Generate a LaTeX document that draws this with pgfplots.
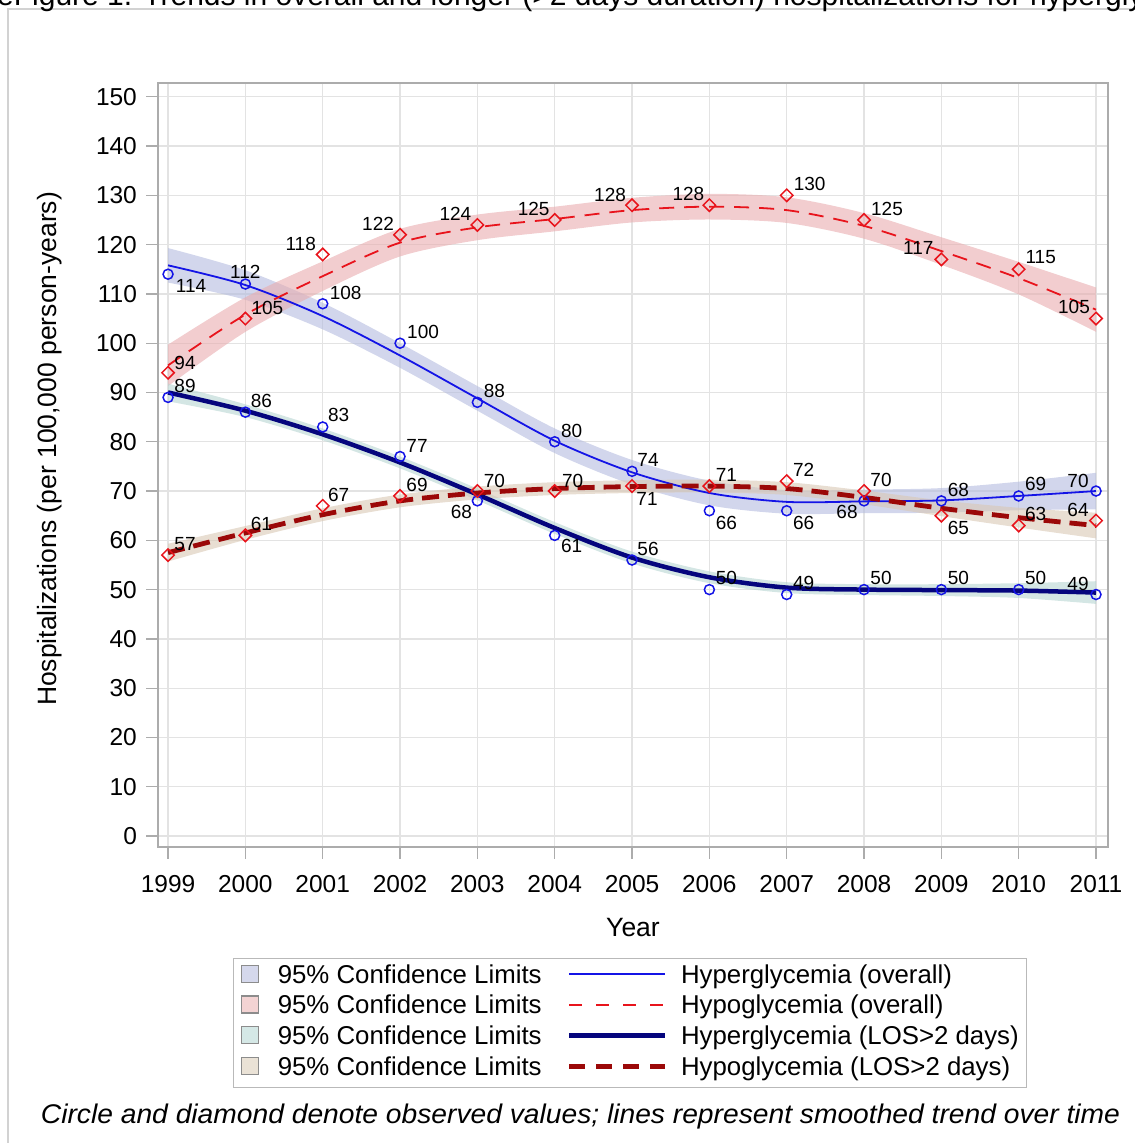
\documentclass[border=0pt]{standalone}
\usepackage{fontspec}
\setmainfont{Liberation Sans}
\usepackage{graphicx}
\usepackage{pgfplots}
\usepackage{pgfplotstable}
\pgfplotsset{compat=1.18}
\usepgfplotslibrary{fillbetween}

\definecolor{hyblue}{RGB}{20,20,230}
\definecolor{hynavy}{RGB}{5,5,125}
\definecolor{hored}{RGB}{232,20,28}
\definecolor{hodark}{RGB}{155,8,8}
\definecolor{bandA}{RGB}{180,187,223}
\definecolor{bandB}{RGB}{233,172,175}
\definecolor{bandC}{RGB}{183,213,210}
\definecolor{bandD}{RGB}{217,200,180}
\definecolor{legA}{RGB}{213,216,236}
\definecolor{legB}{RGB}{243,211,211}
\definecolor{legC}{RGB}{213,232,230}
\definecolor{legD}{RGB}{234,226,214}

% smoothed trend and 95% limits
\pgfplotstableread{
x s lo hi
1999 115.8 112.3 119.3
2000 111.8 108.8 114.8
2001 105.5 102.8 108.2
2002 97.5 95.0 100.0
2003 88.8 86.3 91.3
2004 80.2 77.7 82.7
2005 73.8 71.3 76.3
2006 69.6 67.1 72.1
2007 67.8 65.4 70.2
2008 67.9 65.5 70.3
2009 68.1 65.6 70.6
2010 69.0 66.1 71.9
2011 70.0 66.3 73.7
}\trendA
\pgfplotstableread{
x s lo hi
1999 95.5 91.3 99.7
2000 105.8 102.3 109.3
2001 113.6 110.6 116.6
2002 120.4 117.6 123.2
2003 123.5 120.9 126.1
2004 125.2 122.7 127.7
2005 127.0 124.5 129.5
2006 127.7 125.1 130.3
2007 127.0 124.4 129.6
2008 123.8 121.2 126.4
2009 118.7 115.9 121.5
2010 113.2 109.9 116.5
2011 106.8 102.3 111.3
}\trendB
\pgfplotstableread{
x s lo hi
1999 90.0 88.2 91.8
2000 86.3 85.0 87.6
2001 81.5 80.3 82.7
2002 75.8 74.6 77.0
2003 69.3 68.1 70.5
2004 62.5 61.3 63.7
2005 56.5 55.3 57.7
2006 52.5 51.3 53.7
2007 50.4 49.3 51.5
2008 50.0 48.9 51.1
2009 49.9 48.7 51.1
2010 49.8 48.3 51.3
2011 49.4 47.1 51.7
}\trendC
\pgfplotstableread{
x s lo hi
1999 57.5 55.7 59.3
2000 61.5 60.1 62.9
2001 65.2 63.9 66.5
2002 68.0 66.7 69.3
2003 69.6 68.3 70.9
2004 70.5 69.2 71.8
2005 70.9 69.6 72.2
2006 71.0 69.7 72.3
2007 70.5 69.2 71.8
2008 68.7 67.3 70.1
2009 66.5 64.9 68.1
2010 64.6 62.6 66.6
2011 63.0 60.4 65.6
}\trendD

% observed values, with label offsets (dx, dy)
\pgfplotstableread{
x y dx dy
1999 114 23 -12
2000 112 0 12
2001 108 23 11
2002 100 23 11
2003 88 17 11
2004 80 17 11
2005 74 16 11
2006 66 17 -12
2007 66 17 -12
2008 68 -17 -11
2009 68 17 11
2010 69 17 12
2011 70 -18 10
}\obsA
\pgfplotstableread{
x y dx dy
1999 94 17 10
2000 105 22 11
2001 118 -22 11
2002 122 -22 11
2003 124 -22 11
2004 125 -21 11
2005 128 -22 10
2006 128 -21 11
2007 130 23 11
2008 125 23 11
2009 117 -23 11
2010 115 22 12
2011 105 -22 12
}\obsB
\pgfplotstableread{
x y dx dy
1999 89 17 11
2000 86 16 11
2001 83 16 12
2002 77 17 11
2003 68 -16 -11
2004 61 17 -11
2005 56 16 11
2006 50 17 12
2007 49 17 12
2008 50 17 12
2009 50 17 12
2010 50 17 12
2011 49 -18 11
}\obsC
\pgfplotstableread{
x y dx dy
1999 57 17 11
2000 61 16 11
2001 67 16 11
2002 69 17 11
2003 70 17 10
2004 70 18 10
2005 71 15 -13
2006 71 17 11
2007 72 17 11
2008 70 17 11
2009 65 17 -12
2010 63 17 12
2011 64 -18 11
}\obsD

\pgfplotsset{
  obslabels/.style={
    point meta=explicit,
    nodes near coords,
    nodes near coords align={anchor=center},
    visualization depends on={\thisrow{dx}\as\dx},
    visualization depends on={\thisrow{dy}\as\dy},
    every node near coord/.append style={font=\fontsize{19bp}{22bp}\selectfont, text=black,
      inner sep=0pt, anchor=center, xshift=\dx bp, yshift=\dy bp},
  },
  circ/.style={only marks, mark=o, mark size=5bp, mark options={draw=hyblue, line width=1.5bp}},
  diam/.style={only marks, mark=square, mark size=4.4bp, mark options={draw=hored, line width=1.5bp, rotate=45}},
}

\begin{document}
\begin{tikzpicture}
\draw[color=gray!35, line width=2bp] (8bp,1134bp) rectangle (1160bp,-20bp);
\node[anchor=base west, inner sep=0pt, font=\fontsize{30bp}{34bp}\selectfont] at (-3bp,1137.5bp)
  {eFigure 1. Trends in overall and longer (>2 days duration) hospitalizations for hyperglycemia and hypoglycemia};

\begin{axis}[
  at={(158bp,296bp)}, anchor=south west,
  scale only axis, width=950bp, height=764bp,
  xmin=1998.87, xmax=2011.155, ymin=-2.23, ymax=152.8,
  xtick={1999,2000,...,2011}, ytick={0,10,...,150},
  tick pos=left, tick align=outside,
  major tick length=12bp,
  /pgf/number format/assume math mode=true,
  xticklabel style={/pgf/number format/1000 sep={}},
  ticklabel style={font=\fontsize{24.5bp}{28bp}\selectfont, inner sep=0pt},
  xticklabel shift=16bp, yticklabel shift=9bp,
  grid=major, major grid style={draw=gray!22, line width=1.3bp},
  axis line style={draw=gray!65, line width=1.6bp},
  every tick/.style={draw=gray!65, line width=1.3bp},
  xlabel={Year}, ylabel={Hospitalizations (per 100,000 person-years)},
  every axis x label/.style={at={(axis description cs:0.5,-0.106)}, anchor=center,
     font=\fontsize{26.5bp}{30bp}\selectfont},
  every axis y label/.style={at={(axis description cs:-0.1137,0.521)}, rotate=90, anchor=center,
     font=\fontsize{26.5bp}{30bp}\selectfont},
  legend columns=2,
  legend cell align=left,
  legend style={at={(axis description cs:0.4968,-0.1453)}, anchor=north,
     draw=gray!55, line width=1.3bp, inner xsep=8bp, inner ysep=6bp,
     font=\fontsize{25.8bp}{30bp}\selectfont, row sep=6bp,
     nodes={inner sep=0pt, text height=18bp, text depth=6bp, anchor=west},
     /tikz/every even column/.append style={column sep=25bp}},
]
% confidence bands
\addplot[draw=none, smooth, name path=au, forget plot] table[x=x,y=hi]{\trendA};
\addplot[draw=none, smooth, name path=al, forget plot] table[x=x,y=lo]{\trendA};
\addplot[draw=none, smooth, name path=bu, forget plot] table[x=x,y=hi]{\trendB};
\addplot[draw=none, smooth, name path=bl, forget plot] table[x=x,y=lo]{\trendB};
\addplot[draw=none, smooth, name path=cu, forget plot] table[x=x,y=hi]{\trendC};
\addplot[draw=none, smooth, name path=cl, forget plot] table[x=x,y=lo]{\trendC};
\addplot[draw=none, smooth, name path=du, forget plot] table[x=x,y=hi]{\trendD};
\addplot[draw=none, smooth, name path=dl, forget plot] table[x=x,y=lo]{\trendD};
\addplot[fill=bandA, fill opacity=0.6, draw=none, forget plot] fill between[of=au and al];
\addplot[fill=bandB, fill opacity=0.6, draw=none, forget plot] fill between[of=bu and bl];
\addplot[fill=bandC, fill opacity=0.6, draw=none, forget plot] fill between[of=cu and cl];
\addplot[fill=bandD, fill opacity=0.6, draw=none, forget plot] fill between[of=du and dl];
% trend lines
\addplot[hyblue, line width=1.8bp, smooth, forget plot] table[x=x,y=s]{\trendA};
\addplot[hored, line width=1.8bp, smooth, dash pattern=on 15bp off 10bp, forget plot] table[x=x,y=s]{\trendB};
\addplot[hynavy, line width=4.5bp, smooth, forget plot] table[x=x,y=s]{\trendC};
\addplot[hodark, line width=4.8bp, smooth, dash pattern=on 17bp off 9bp, forget plot] table[x=x,y=s]{\trendD};
% observed
\addplot[circ, obslabels, forget plot] table[x=x,y=y,meta=y]{\obsA};
\addplot[diam, obslabels, forget plot] table[x=x,y=y,meta=y]{\obsB};
\addplot[circ, obslabels, forget plot] table[x=x,y=y,meta=y]{\obsC};
\addplot[diam, obslabels, forget plot] table[x=x,y=y,meta=y]{\obsD};
% legend
\addlegendimage{legend image code/.code={\draw[fill=legA, draw=gray!90, line width=1.3bp] (0bp,-5bp) rectangle (17bp,12bp); \path[draw=none] (0bp,3bp) -- (36bp,3bp);}}
\addlegendentry{95\% Confidence Limits}
\addlegendimage{legend image code/.code={\draw[color=hyblue, line width=1.8bp] (0bp,3bp) -- (96bp,3bp); \path[draw=none] (96bp,3bp) -- (112bp,3bp);}}
\addlegendentry{Hyperglycemia (overall)}
\addlegendimage{legend image code/.code={\draw[fill=legB, draw=gray!90, line width=1.3bp] (0bp,-5bp) rectangle (17bp,12bp); \path[draw=none] (0bp,3bp) -- (36bp,3bp);}}
\addlegendentry{95\% Confidence Limits}
\addlegendimage{legend image code/.code={\draw[color=hored, line width=1.8bp, dash pattern=on 13bp off 14bp] (0bp,3bp) -- (96bp,3bp); \path[draw=none] (96bp,3bp) -- (112bp,3bp);}}
\addlegendentry{Hypoglycemia (overall)}
\addlegendimage{legend image code/.code={\draw[fill=legC, draw=gray!90, line width=1.3bp] (0bp,-5bp) rectangle (17bp,12bp); \path[draw=none] (0bp,3bp) -- (36bp,3bp);}}
\addlegendentry{95\% Confidence Limits}
\addlegendimage{legend image code/.code={\draw[color=hynavy, line width=4.5bp] (0bp,3bp) -- (96bp,3bp); \path[draw=none] (96bp,3bp) -- (112bp,3bp);}}
\addlegendentry{Hyperglycemia (LOS>2 days)}
\addlegendimage{legend image code/.code={\draw[fill=legD, draw=gray!90, line width=1.3bp] (0bp,-5bp) rectangle (17bp,12bp); \path[draw=none] (0bp,3bp) -- (36bp,3bp);}}
\addlegendentry{95\% Confidence Limits}
\addlegendimage{legend image code/.code={\draw[color=hodark, line width=4.8bp, dash pattern=on 16bp off 11bp] (0bp,3bp) -- (96bp,3bp); \path[draw=none] (96bp,3bp) -- (112bp,3bp);}}
\addlegendentry{Hypoglycemia (LOS>2 days)}
\end{axis}

\node[anchor=base, inner sep=0pt, font=\fontsize{27bp}{30bp}\selectfont\itshape] at (580.5bp,19bp)
  {\resizebox{1079bp}{\height}{Circle and diamond denote observed values; lines represent smoothed trend over time}};
\pgfresetboundingbox
\path[use as bounding box] (0,0) rectangle (1135bp,1143bp);
\end{tikzpicture}
\end{document}
